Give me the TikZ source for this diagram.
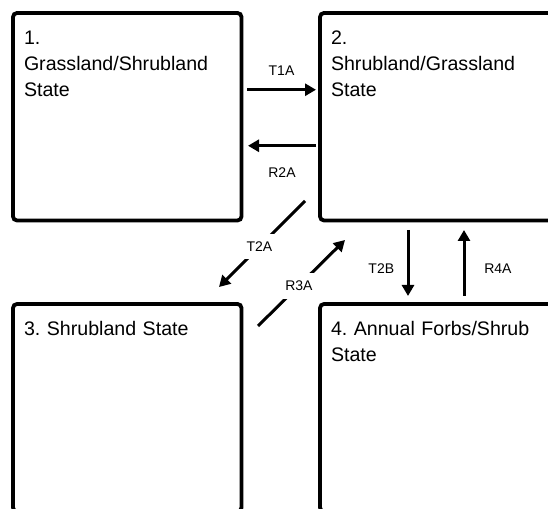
\documentclass[tikz,border=0pt]{standalone}
\usepackage{fontspec}
\setmainfont{Liberation Sans}
\usetikzlibrary{arrows.meta,positioning}
\frenchspacing

\begin{document}
\begin{tikzpicture}[
  x=1pt, y=1pt,
  node distance=83.5pt and 78.5pt,
  state/.style={draw, line width=3.8pt, rounded corners=4pt, outer sep=0pt, align=left,
    text width=206.5pt, text height=18.2pt, text depth=163.3pt,
    inner xsep=11pt, inner ysep=13pt, font=\fontsize{19.6}{26}\selectfont},
  wide/.style={text width=214pt},
  arr/.style={-{Triangle[length=11pt,width=12pt]}, line width=3pt},
  lbl/.style={font=\fontsize{14}{16}\selectfont},
  cut/.style={lbl, fill=white, inner xsep=3pt, inner ysep=8pt}
]
\useasboundingbox (0,0) rectangle (548,508);
\clip (0,0) rectangle (548,508);
% states
\node[state, anchor=north west] (s1) at (13,495) {1.\\Grassland/Shrubland\\State};
\node[state, wide, right=of s1] (s2) {2.\\Shrubland/Grassland\\State};
\node[state, below=of s1] (s3) {3. Shrubland State};
\node[state, wide, right=of s3] (s4) {4. Annual Forbs/Shrub\\State};
% transitions
\draw[arr] ([shift={(5.5pt,27pt)}]s1.east) -- node[lbl, above=9pt]{T1A} ([shift={(-4pt,27pt)}]s2.west);
\draw[arr] ([shift={(-4pt,-29pt)}]s2.west) -- node[lbl, below=17pt]{R2A} ([shift={(6.5pt,-29pt)}]s1.east);
\draw[arr] ([shift={(-15pt,19.5pt)}]s2.south west) -- node[cut, pos=0.53]{T2A} ([shift={(-22.5pt,17pt)}]s3.north east);
\draw[arr] ([shift={(16.5pt,-22pt)}]s3.north east) -- node[cut, pos=0.47]{R3A} ([shift={(25pt,-19.5pt)}]s2.south west);
\draw[arr] ([shift={(88pt,-9.5pt)}]s2.south west) -- node[lbl, left=9pt, pos=0.58]{T2B} ([shift={(88pt,8pt)}]s4.north west);
\draw[arr] ([shift={(144pt,8pt)}]s4.north west) -- node[lbl, right=15.5pt, pos=0.42]{R4A} ([shift={(144pt,-9.5pt)}]s2.south west);
\end{tikzpicture}
\end{document}
